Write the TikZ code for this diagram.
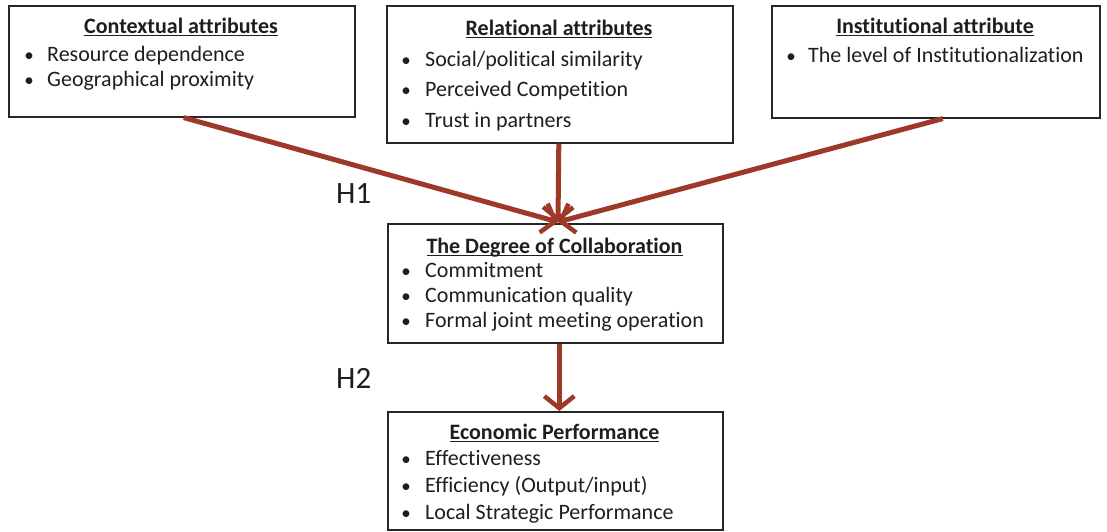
\documentclass[tikz,border=0pt]{standalone}
\usepackage{fontspec}
\setmainfont[Ligatures=NoCommon]{Carlito}
\usetikzlibrary{arrows.meta}
\definecolor{arr}{RGB}{158,56,40}
\definecolor{txt}{RGB}{30,30,30}
\newcommand\ulin[1]{\setbox0\hbox{#1}\rlap{\rule[-3pt]{\wd0}{1.4pt}}\box0}
\begin{document}
\begin{tikzpicture}[x=1pt,y=-1pt,
  box/.style={draw=black!85, line width=1.6pt, anchor=north west, inner sep=0pt},
  ttl/.style={anchor=base, font=\fontsize{22}{22}\selectfont\bfseries, text=txt, inner sep=0pt},
  itm/.style={anchor=base west, font=\fontsize{22}{22}\selectfont, text=txt, inner sep=0pt},
  bul/.style={anchor=base, font=\fontsize{19}{19}\selectfont, text=txt, inner sep=0pt},
  link/.style={draw=arr, line width=5pt, -{Straight Barb[length=12pt,width=30pt,line width=4.5pt]}},
  hyp/.style={anchor=base west, font=\fontsize{31}{31}\selectfont, text=txt, inner sep=0pt}]
\useasboundingbox (0,0) rectangle (1107,531);

% boxes
\node[box, minimum width=346pt, minimum height=111pt] (ctx) at (8,5) {};
\node[box, minimum width=346pt, minimum height=137pt] (rel) at (386,5) {};
\node[box, minimum width=328pt, minimum height=112pt] (ins) at (771,5) {};
\node[box, minimum width=335pt, minimum height=119pt] (deg) at (387,223) {};
\node[box, minimum width=335pt, minimum height=118pt] (eco) at (387,411) {};

% contextual
\node[ttl] (ctxt) at (181,33) {\ulin{Contextual attributes}};
\node[bul] (ctxb1) at (29,61) {•};
\node[itm] (ctx1) at (47,61) {Resource dependence};
\node[bul] (ctxb2) at (29,86) {•};
\node[itm] (ctx2) at (47,86) {Geographical proximity};

% relational
\node[ttl] (relt) at (559,35) {\ulin{Relational attributes}};
\node[bul] (relb1) at (406,66) {•};
\node[itm] (rel1) at (425,66) {Social/political similarity};
\node[bul] (relb2) at (406,96) {•};
\node[itm] (rel2) at (425,96) {Perceived Competition};
\node[bul] (relb3) at (406,127) {•};
\node[itm] (rel3) at (425,127) {Trust in partners};

% institutional
\node[ttl] (inst) at (935,33) {\ulin{Institutional attribute}};
\node[bul] (insb1) at (791,62) {•};
\node[itm] (ins1) at (808,62) {The level of Institutionalization};

% degree
\node[ttl] (degt) at (554.5,253) {\ulin{The Degree of Collaboration}};
\node[bul] (degb1) at (406,277) {•};
\node[itm] (deg1) at (425,277) {Commitment};
\node[bul] (degb2) at (406,302) {•};
\node[itm] (deg2) at (425,302) {Communication quality};
\node[bul] (degb3) at (406,327) {•};
\node[itm] (deg3) at (425,327) {Formal joint meeting operation};

% economic
\node[ttl] (ecot) at (554.5,439) {\ulin{Economic Performance}};
\node[bul] (ecob1) at (406,465) {•};
\node[itm] (eco1) at (425,465) {Effectiveness};
\node[bul] (ecob2) at (406,492) {•};
\node[itm] (eco2) at (425,492) {Efficiency (Output/input)};
\node[bul] (ecob3) at (406,519) {•};
\node[itm] (eco3) at (425,519) {Local Strategic Performance};

% hypotheses
\node[hyp] (h1) at (336,203) {H1};
\node[hyp] (h2) at (336,388) {H2};

% connectors
\coordinate (tip) at (558,222);
\coordinate (ctxs) at ([xshift=2pt]ctx.south);
\coordinate (ins s) at ([xshift=7pt]ins.south);
\coordinate (rels) at ([xshift=-1pt]rel.south);
\coordinate (degs) at ([xshift=4pt]deg.south);
\coordinate (ecn) at ([xshift=4pt]eco.north);
\draw[link] (ctxs) -- (tip);
\draw[link] (ins s) -- (tip);
\draw[link] (rels) -- (tip);
\draw[link] (degs) -- (ecn);
\end{tikzpicture}
\end{document}
